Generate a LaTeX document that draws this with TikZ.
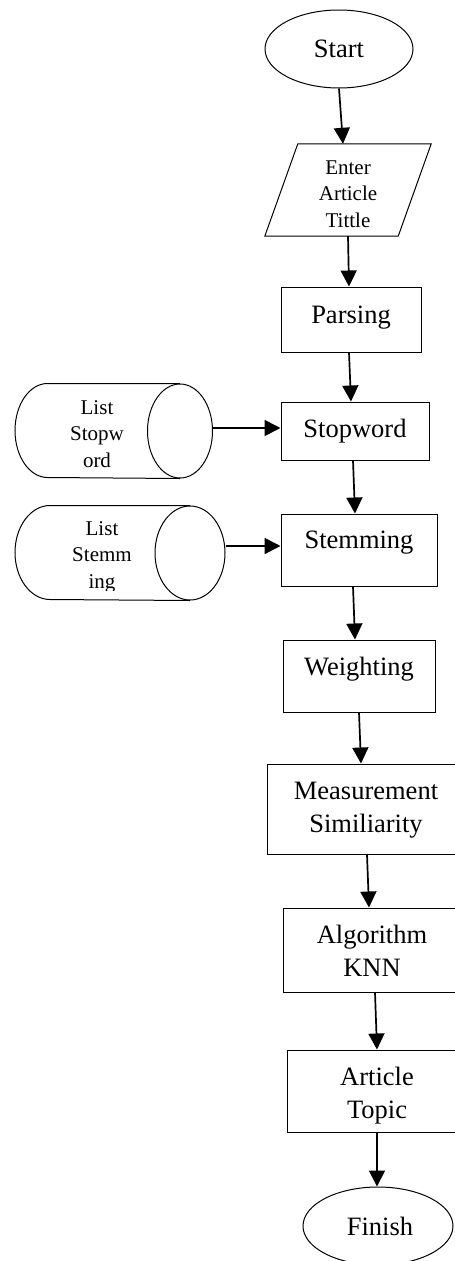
\documentclass[tikz,border=0pt]{standalone}
\usepackage{fontspec}
\setmainfont{Liberation Serif}
\usetikzlibrary{shapes.geometric,arrows.meta}

\begin{document}
\begin{tikzpicture}[x=1pt,y=-1pt,
  shapeline/.style={draw=black, line width=1pt},
  boxnode/.style={shapeline, rectangle, inner sep=0pt},
  ovalnode/.style={shapeline, ellipse, inner sep=0pt},
  flow/.style={line width=1.7pt, -{Triangle[length=16pt,width=16pt]}},
  bigtext/.style={font=\fontsize{26.5}{33}\selectfont, inner sep=0pt, align=center, anchor=base},
  smalltext/.style={font=\fontsize{21}{26.5}\selectfont, inner sep=0pt, align=center, anchor=base},
]
\useasboundingbox (0,0) rectangle (455,1261);
\clip (0,0) rectangle (455,1261);

% terminals and process boxes
\node[ovalnode, minimum width=148pt, minimum height=78pt] (start) at (339,49) {};
\node[inner sep=0pt, minimum width=133pt, minimum height=92pt] (enter) at (348,190) {};
\draw[shapeline] ([xshift=16.5pt]enter.north west) -- ([xshift=16.5pt]enter.north east)
  -- ([xshift=-16.5pt]enter.south east) -- ([xshift=-16.5pt]enter.south west) -- cycle;
\node[boxnode, minimum width=140pt, minimum height=65pt] (parsing) at (351,319.5) {};
\node[boxnode, minimum width=148pt, minimum height=58pt] (stopword) at (355,431) {};
\node[boxnode, minimum width=156pt, minimum height=72pt] (stemming) at (359,550) {};
\node[boxnode, minimum width=152pt, minimum height=72pt] (weighting) at (359,676) {};
\node[boxnode, minimum width=198pt, minimum height=90pt] (measure) at (366,809) {};
\node[boxnode, minimum width=178pt, minimum height=84pt] (knn) at (372,950) {};
\node[boxnode, minimum width=180pt, minimum height=82pt] (topic) at (377,1091) {};
\node[ovalnode, minimum width=150pt, minimum height=78pt] (finish) at (378,1226) {};

% stored word lists
\node[ovalnode, minimum width=65pt, minimum height=94pt] (lsw) at (180,431) {};
\draw[shapeline] (lsw.north) -- ++(-132.5,0)
  arc[start angle=270, end angle=90, x radius=32.5, y radius=47] -- (lsw.south);
\node[ovalnode, minimum width=70pt, minimum height=94pt] (lst) at (190,553) {};
\draw[shapeline] (lst.north) -- ++(-140,0)
  arc[start angle=270, end angle=90, x radius=35, y radius=47] -- (lst.south);

% labels (multi-line labels sit on the baseline of their last line)
\node[bigtext] (start-t) at (339,57) {Start};
\node[smalltext] (enter-t) at (348,227) {Enter\\Article\\Tittle};
\node[bigtext] (parsing-t) at (351,323) {Parsing};
\node[bigtext] (stopword-t) at (355,437) {Stopword};
\node[bigtext] (stemming-t) at (359,548) {Stemming};
\node[bigtext] (weighting-t) at (359,675) {Weighting};
\node[bigtext] (measure-t) at (366,832) {Measurement\\Similiarity};
\node[bigtext] (knn-t) at (372,976) {Algorithm\\KNN};
\node[bigtext] (topic-t) at (377,1118) {Article\\Topic};
\node[bigtext] (finish-t) at (380,1235) {Finish};
\node[smalltext] (lsw-t) at (97,467) {List\\Stopw\\ord};
\begin{scope}
  \clip (0,480) rectangle (240,590);
  \node[smalltext] (lst-t) at (102,588) {List\\Stemm\\ing};
\end{scope}

% connectors
\draw[flow] (start.south) -- ([xshift=-5pt]enter.north);
\draw[flow] (enter.south) -- ([xshift=-2pt]parsing.north);
\draw[flow] ([xshift=-2pt]parsing.south) -- ([xshift=-4pt]stopword.north);
\draw[flow] ([xshift=-2pt]stopword.south) -- ([xshift=-4pt]stemming.north);
\draw[flow] ([xshift=-6pt]stemming.south) -- ([xshift=-4pt]weighting.north);
\draw[flow] (weighting.south) -- ([xshift=-5pt]measure.north);
\draw[flow] ([xshift=1pt]measure.south) -- ([xshift=-3pt]knn.north);
\draw[flow] ([xshift=3pt]knn.south) -- (topic.north);
\draw[flow] (topic.south) -- ([xshift=-1pt]finish.north);
\draw[flow] ([yshift=3pt]lsw.east) -- ([yshift=3pt]stopword.west);
\draw[flow] ([yshift=7pt]lst.east) -- ([yshift=4pt]stemming.west);
\end{tikzpicture}
\end{document}
